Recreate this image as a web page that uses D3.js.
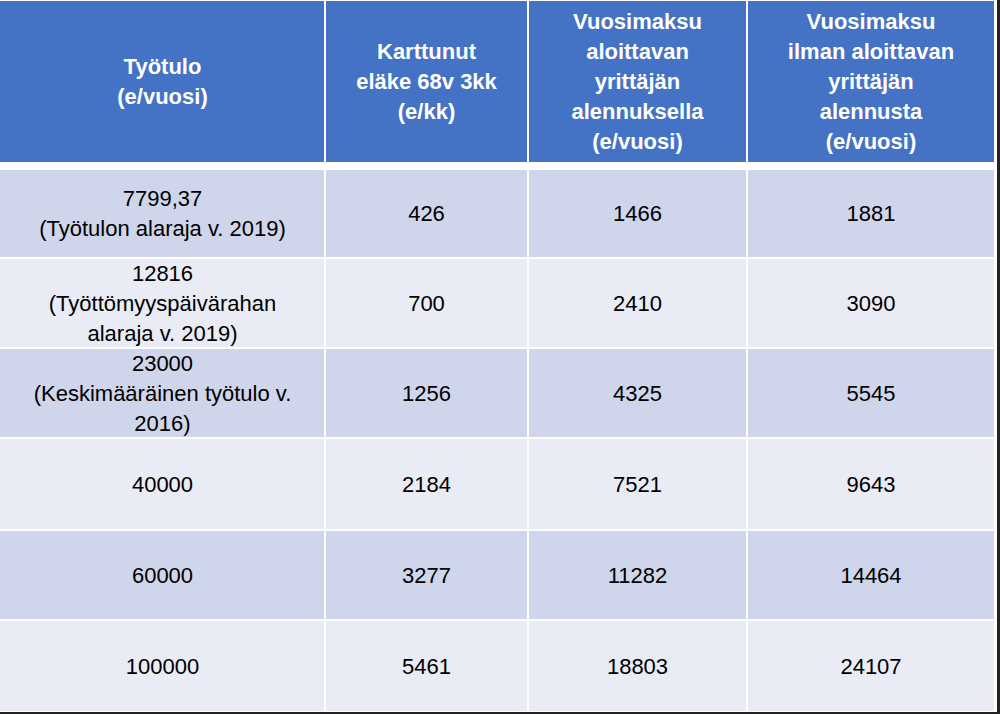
<!DOCTYPE html>
<html><head><meta charset="utf-8">
<script src="https://cdn.jsdelivr.net/npm/d3@7"></script>
<style>body{margin:0;background:#fff}svg{display:block}</style>
</head><body>
<svg id="chart" width="1000" height="714"></svg>
<script>
const headers = [
  ["Työtulo", "(e/vuosi)"],
  ["Karttunut", "eläke 68v 3kk", "(e/kk)"],
  ["Vuosimaksu", "aloittavan", "yrittäjän", "alennuksella", "(e/vuosi)"],
  ["Vuosimaksu", "ilman aloittavan", "yrittäjän", "alennusta", "(e/vuosi)"]
];
const incomes = [
  ["7799,37", "(Työtulon alaraja v. 2019)"],
  ["12816", "(Työttömyyspäivärahan", "alaraja v. 2019)"],
  ["23000", "(Keskimääräinen työtulo v.", "2016)"],
  ["40000"], ["60000"], ["100000"]
];
const pension = [426, 700, 1256, 2184, 3277, 5461];
const feeDiscount = [1466, 2410, 4325, 7521, 11282, 18803];
const feeFull = [1881, 3090, 5545, 9643, 14464, 24107];

const svg = d3.select("#chart");
const colEdges = [0, 325, 528, 747, 995];
const rowEdges = [0, 166, 258, 348, 438, 530, 620, 712];
const font = "'Liberation Sans', Arial, sans-serif";

// dark outline right/bottom
svg.append("rect").attr("x", 0).attr("y", 0).attr("width", 1000).attr("height", 714).attr("fill", "#222");
svg.append("rect").attr("x", 0).attr("y", 0).attr("width", 997).attr("height", 712).attr("fill", "#fff");

const rows = [headers].concat(incomes.map((inc, i) => [inc, [String(pension[i])], [String(feeDiscount[i])], [String(feeFull[i])]]));

rows.forEach((row, r) => {
  const y0 = rowEdges[r] + (r === 1 ? 3 : 0), y1 = rowEdges[r + 1] - (r === 0 ? 3 : 0);
  const fill = r === 0 ? "#4472C4" : (r % 2 === 1 ? "#CFD5EA" : "#E9EBF5");
  row.forEach((lines, c) => {
    const x0 = colEdges[c], x1 = colEdges[c + 1];
    svg.append("rect").attr("x", x0 + (c ? 1 : 0)).attr("y", y0 + 1)
      .attr("width", x1 - x0 - (c ? 2 : 1)).attr("height", y1 - y0 - 2).attr("fill", fill);
    const lh = r === 0 ? 30 : 30;
    const cy = (y0 + y1) / 2 - (lines.length - 1) * lh / 2;
    const t = svg.append("text").attr("text-anchor", "middle")
      .attr("font-family", font).attr("font-size", 22)
      .attr("font-weight", r === 0 ? "bold" : "normal")
      .attr("fill", r === 0 ? "#fff" : "#000");
    lines.forEach((s, k) => t.append("tspan").attr("x", (x0 + x1) / 2)
      .attr("y", cy + k * lh).attr("dy", "0.35em").text(s));
  });
});
</script>
</body></html>
